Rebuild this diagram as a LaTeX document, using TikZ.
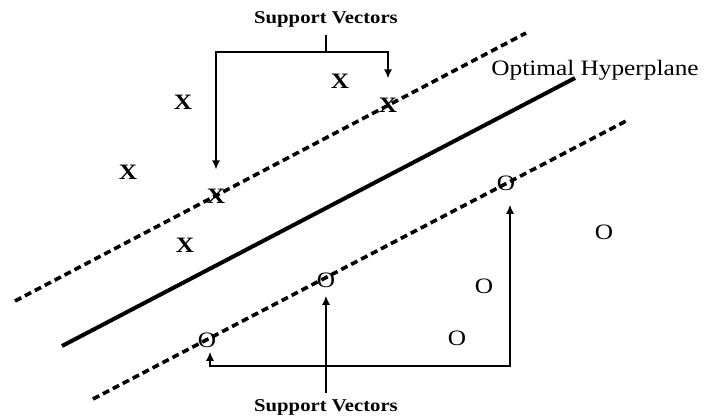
\documentclass[tikz,border=0pt]{standalone}
\usepackage{fontspec}
\setmainfont{Liberation Serif}[FakeStretch=1.15]
\usetikzlibrary{arrows.meta}

\begin{document}
\begin{tikzpicture}[x=0.5pt,y=-0.5pt,>={Latex[length=4.5pt,width=4pt]},
  opt/.style={inner sep=1pt,font=\fontsize{11}{13}\selectfont},
  xpt/.style={inner sep=1pt,font=\fontsize{11}{13}\selectfont\bfseries},
  lbl/.style={inner sep=1pt,font=\fontsize{9}{11}\selectfont\bfseries},
  arr/.style={->,line width=0.7pt},
  margin/.style={line width=1.8pt,dash pattern=on 3.5pt off 2.1pt}]
\useasboundingbox (0,0) rectangle (705,418);
% hyperplane and the two margins
\coordinate (ua) at (15,301); \coordinate (ub) at (526,33);
\coordinate (ha) at (62,346); \coordinate (hb) at (575,78);
\coordinate (la) at (93,399); \coordinate (lb) at (628,120);
\draw[margin] (ua)--(ub);
\draw[line width=2pt] (ha)--(hb);
\draw[margin] (la)--(lb);
\node[anchor=west,inner sep=0pt,font=\fontsize{11}{13}\selectfont] (hyp) at (491,70) {Optimal Hyperplane};
% class X
\node[xpt] (x1) at (183,102) {X};
\node[xpt] (x2) at (340,81) {X};
\node[xpt] (x3) at (128,172) {X};
\node[xpt] (x4) at (185,245) {X};
\node[xpt] (xsv1) at (216,196) {X};
\node[xpt] (xsv2) at (388,105) {X};
% class O
\node[opt] (o1) at (604,232) {O};
\node[opt] (o2) at (484,286) {O};
\node[opt] (o3) at (457,338) {O};
\node[opt] (osv1) at (207,340) {O};
\node[opt] (osv2) at (326,280) {O};
\node[opt] (osv3) at (506,183) {O};
% support vector callouts
\node[lbl] (svtop) at (326,19) {Support Vectors};
\coordinate (tm) at (326,52); \coordinate (tl) at (216,52); \coordinate (tr) at (388,52);
\draw[line width=0.7pt,shorten <=3pt] (svtop.south)--(tm);
\draw[arr,shorten >=8.5pt] (tm)--(tl)--(xsv1.north);
\draw[arr,shorten >=8.5pt] (tm)--(tr)--(xsv2.north);
\node[lbl] (svbot) at (326,407) {Support Vectors};
\coordinate (bl) at (210,366); \coordinate (br) at (510,366);
\draw[arr,shorten <=2pt,shorten >=3pt] (svbot.north)--(osv2.south);
\draw[arr,<->,shorten <=6pt,shorten >=1pt] (br |- osv3.south)--(br)--(bl)--(bl |- osv1.south);
\end{tikzpicture}
\end{document}
